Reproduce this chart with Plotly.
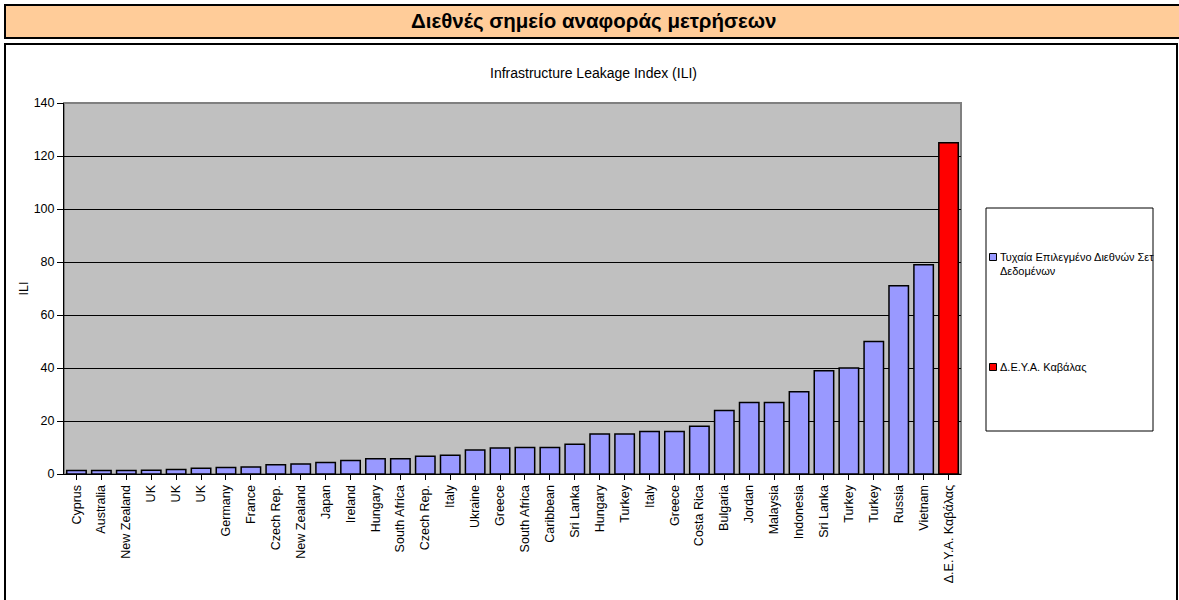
import plotly.graph_objects as go

categories = ["Cyprus", "Australia", "New Zealand", "UK", "UK", "UK", "Germany", "France",
              "Czech Rep.", "New Zealand", "Japan", "Ireland", "Hungary", "South Africa",
              "Czech Rep.", "Italy", "Ukraine", "Greece", "South Africa", "Caribbean",
              "Sri Lanka", "Hungary", "Turkey", "Italy", "Greece", "Costa Rica", "Bulgaria",
              "Jordan", "Malaysia", "Indonesia", "Sri Lanka", "Turkey", "Turkey", "Russia",
              "Vietnam", "Δ.Ε.Υ.Α. Καβάλας"]
intl_values = [1.3, 1.3, 1.3, 1.4, 1.7, 2.2, 2.5, 2.6, 3.5, 3.8, 4.3, 5.1, 5.8, 5.8,
               6.7, 7.1, 9.1, 9.8, 10.0, 10.0, 11.2, 15.1, 15.1, 16.0, 16.0, 18.0, 24.0,
               27.0, 27.0, 31.0, 39.0, 40.0, 50.0, 71.0, 79.0, None]
deya_values = [None] * 35 + [125.0]

series_names = ["Τυχαία Επιλεγμένο Διεθνών Σετ<br>Δεδομένων", "Δ.Ε.Υ.Α. Καβάλας"]
series_colors = ["#9999FF", "#FF0000"]
main_title = "Διεθνές σημείο αναφοράς μετρήσεων"
chart_title = "Infrastructure Leakage Index (ILI)"
y_title = "ILI"
y_ticks = [0, 20, 40, 60, 80, 100, 120, 140]

W, H = 1179, 600
FONT = "Liberation Sans, Arial, sans-serif"
x_idx = list(range(len(categories)))

fig = go.Figure()
fig.add_trace(go.Bar(x=x_idx, y=intl_values, name=series_names[0], showlegend=False,
                     marker=dict(color=series_colors[0], line=dict(color="black", width=1.5))))
fig.add_trace(go.Bar(x=x_idx, y=deya_values, name=series_names[1], showlegend=False,
                     marker=dict(color=series_colors[1], line=dict(color="black", width=1.5))))

# plot area pixel coordinates
px_l, px_r, px_t, px_b = 64, 961, 103, 474


def fx(px):
    return px / W


def fy(py):
    return 1 - py / H


shapes = [
    # title bar
    dict(type="rect", xref="paper", yref="paper", x0=fx(5), x1=fx(1185),
         y0=fy(38), y1=fy(5), fillcolor="#FFCC99", line=dict(color="black", width=2),
         layer="below"),
    # chart frame
    dict(type="rect", xref="paper", yref="paper", x0=fx(5), x1=fx(1177),
         y0=fy(610), y1=fy(44), fillcolor="rgba(0,0,0,0)",
         line=dict(color="black", width=2)),
    # plot area border
    dict(type="rect", xref="paper", yref="paper", x0=fx(px_l), x1=fx(px_r),
         y0=fy(px_b), y1=fy(px_t), fillcolor="rgba(0,0,0,0)",
         line=dict(color="#808080", width=2), layer="below"),
    # legend box
    dict(type="rect", xref="paper", yref="paper", x0=fx(986), x1=fx(1153),
         y0=fy(431), y1=fy(208), fillcolor="rgba(0,0,0,0)",
         line=dict(color="black", width=1)),
]

annotations = [
    dict(text="<b>" + main_title + "</b>", x=fx(594), y=fy(21), xref="paper",
         yref="paper", showarrow=False, font=dict(size=20.5, family=FONT),
         xanchor="center", yanchor="middle"),
    dict(text=chart_title, x=fx(593), y=fy(73), xref="paper", yref="paper",
         showarrow=False, font=dict(size=14, family=FONT), xanchor="center",
         yanchor="middle"),
]

# legend entries (symbol + label)
legend_rows = [257, 367]
for name, color, row in zip(series_names, series_colors, legend_rows):
    shapes.append(dict(type="rect", xref="paper", yref="paper", x0=fx(989.5), x1=fx(996.5),
                       y0=fy(row + 3.5), y1=fy(row - 3.5), fillcolor=color,
                       line=dict(color="black", width=1)))
    annotations.append(dict(text=name, x=fx(998), y=fy(row - 8), xref="paper", yref="paper",
                            showarrow=False, xanchor="left", yanchor="top", align="left",
                            font=dict(size=11, family=FONT)))

fig.update_layout(
    width=W, height=H,
    margin=dict(l=0, r=0, t=0, b=0),
    paper_bgcolor="white",
    plot_bgcolor="#C0C0C0",
    barmode="relative",
    bargap=0.22,
    font=dict(family=FONT, size=12, color="black"),
    xaxis=dict(domain=[fx(px_l), fx(px_r)], tickmode="array", tickvals=x_idx,
               ticktext=categories, tickangle=-90, ticks="outside", ticklen=5,
               tickson="boundaries", tickcolor="black", showline=True, linecolor="black",
               linewidth=1, range=[-0.5, len(categories) - 0.5], showgrid=False,
               automargin=False, tickfont=dict(size=12.5)),
    yaxis=dict(domain=[fy(px_b), fy(px_t)], range=[0, 140], tickvals=y_ticks,
               ticks="outside", ticklen=6, tickcolor="black", showline=True,
               linecolor="black", linewidth=1, showgrid=True, gridcolor="black",
               gridwidth=1, zeroline=False, automargin=False, tickfont=dict(size=12.5),
               title=dict(text=y_title, font=dict(size=12.5), standoff=2)),
    showlegend=False,
    shapes=shapes,
    annotations=annotations,
)

fig.write_html("out.html", config={"displayModeBar": False},
               post_script="document.body.style.margin='0';")
